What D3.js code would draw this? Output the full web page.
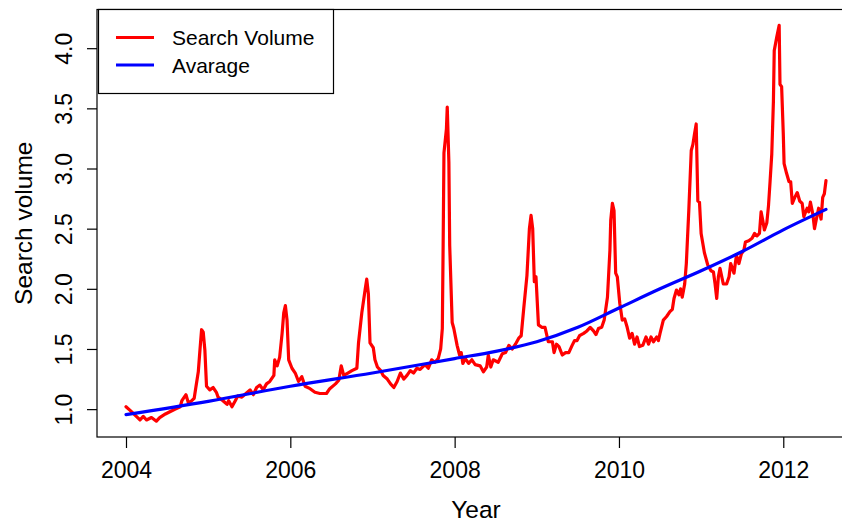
<!DOCTYPE html>
<html>
<head>
<meta charset="utf-8">
<script src="https://cdn.jsdelivr.net/npm/d3@7"></script>
<style>
  body { margin: 0; background: #fff; }
  svg { display: block; }
  text { font-family: "Liberation Sans", Arial, Helvetica, sans-serif; fill: #000; }
</style>
</head>
<body>
<svg id="chart" width="842" height="523"></svg>
<script>
// Weekly search volume, sampled as decimal years
const volumeYears = [
  2004.00, 2004.05, 2004.11, 2004.17, 2004.21, 2004.25, 2004.31, 2004.37, 2004.41, 2004.48, 2004.54, 2004.60, 2004.66,
  2004.68, 2004.73, 2004.76, 2004.80, 2004.83, 2004.85, 2004.88, 2004.90, 2004.92, 2004.94, 2004.96, 2004.98,
  2005.02, 2005.06, 2005.10, 2005.12, 2005.18, 2005.23, 2005.25, 2005.29, 2005.33, 2005.36, 2005.41, 2005.46, 2005.51,
  2005.55, 2005.59, 2005.63, 2005.67, 2005.71, 2005.75, 2005.80, 2005.81, 2005.84, 2005.87, 2005.90, 2005.92, 2005.94,
  2005.96, 2005.98,
  2006.02, 2006.06, 2006.10, 2006.14, 2006.18, 2006.24, 2006.30, 2006.36, 2006.44, 2006.48, 2006.55, 2006.59, 2006.62,
  2006.65, 2006.70, 2006.75, 2006.81, 2006.83, 2006.87, 2006.91, 2006.93, 2006.95, 2006.97,
  2007.01, 2007.03, 2007.06, 2007.10, 2007.13, 2007.18, 2007.22, 2007.26, 2007.30, 2007.34, 2007.38, 2007.42, 2007.46,
  2007.50, 2007.54, 2007.58, 2007.64, 2007.68, 2007.72, 2007.76, 2007.80, 2007.83, 2007.85, 2007.86, 2007.87, 2007.90,
  2007.91, 2007.93, 2007.94, 2007.97, 2007.99,
  2008.03, 2008.06, 2008.08, 2008.10, 2008.13, 2008.17, 2008.21, 2008.25, 2008.31, 2008.35, 2008.39, 2008.41, 2008.44,
  2008.47, 2008.53, 2008.58, 2008.62, 2008.66, 2008.70, 2008.74, 2008.78, 2008.81, 2008.84, 2008.88, 2008.91, 2008.93,
  2008.95, 2008.97, 2008.99,
  2009.02, 2009.06, 2009.10, 2009.14, 2009.19, 2009.21, 2009.24, 2009.27, 2009.31, 2009.35, 2009.39, 2009.43, 2009.46,
  2009.49, 2009.52, 2009.57, 2009.61, 2009.65, 2009.69, 2009.72, 2009.75, 2009.79, 2009.82, 2009.86, 2009.89, 2009.90,
  2009.92, 2009.94, 2009.96, 2009.98,
  2010.01, 2010.04, 2010.07, 2010.10, 2010.13, 2010.16, 2010.19, 2010.22, 2010.25, 2010.29, 2010.33, 2010.36, 2010.39,
  2010.42, 2010.46, 2010.48, 2010.50, 2010.54, 2010.58, 2010.62, 2010.65, 2010.67, 2010.70, 2010.73, 2010.75, 2010.77,
  2010.80, 2010.82, 2010.85, 2010.88, 2010.90, 2010.92, 2010.94, 2010.96, 2010.98,
  2011.00, 2011.04, 2011.08, 2011.12, 2011.15, 2011.17, 2011.19, 2011.21, 2011.23, 2011.27, 2011.31, 2011.34, 2011.36,
  2011.40, 2011.43, 2011.46, 2011.49, 2011.52, 2011.54, 2011.58, 2011.62, 2011.65, 2011.68, 2011.71, 2011.73, 2011.75,
  2011.77, 2011.80, 2011.82, 2011.84, 2011.86, 2011.88, 2011.89, 2011.92, 2011.95, 2011.96, 2011.98,
  2012.00, 2012.01, 2012.04, 2012.07, 2012.09, 2012.11, 2012.14, 2012.17, 2012.20, 2012.23, 2012.25, 2012.29, 2012.31,
  2012.33, 2012.36, 2012.38, 2012.40, 2012.43, 2012.46, 2012.48, 2012.50, 2012.52
];
const volumeValues = [
  1.02, 0.99, 0.95, 0.91, 0.94, 0.91, 0.93, 0.90, 0.93, 0.96, 0.98, 1.00, 1.02,
  1.07, 1.12, 1.05, 1.07, 1.09, 1.18, 1.31, 1.49, 1.66, 1.64, 1.49, 1.19,
  1.16, 1.18, 1.14, 1.10, 1.07, 1.04, 1.07, 1.02, 1.07, 1.11, 1.10, 1.13, 1.16,
  1.12, 1.18, 1.20, 1.16, 1.21, 1.23, 1.28, 1.41, 1.36, 1.43, 1.63, 1.80, 1.86,
  1.74, 1.41,
  1.34, 1.30, 1.23, 1.27, 1.19, 1.17, 1.14, 1.13, 1.13, 1.17, 1.21, 1.24, 1.36,
  1.28, 1.30, 1.32, 1.34, 1.55, 1.80, 1.99, 2.08, 1.96, 1.55,
  1.51, 1.41, 1.35, 1.32, 1.28, 1.25, 1.21, 1.18, 1.23, 1.30, 1.25, 1.28, 1.32,
  1.30, 1.34, 1.33, 1.37, 1.34, 1.41, 1.39, 1.42, 1.50, 1.67, 2.36, 3.13, 3.33,
  3.51, 3.05, 2.36, 1.72, 1.67,
  1.53, 1.45, 1.47, 1.38, 1.42, 1.38, 1.41, 1.37, 1.36, 1.31, 1.35, 1.45, 1.35,
  1.41, 1.39, 1.46, 1.47, 1.53, 1.50, 1.54, 1.59, 1.61, 1.83, 2.11, 2.50, 2.61,
  2.50, 2.06, 2.10,
  1.70, 1.68, 1.68, 1.56, 1.56, 1.47, 1.54, 1.52, 1.45, 1.47, 1.47, 1.53, 1.57,
  1.57, 1.61, 1.63, 1.65, 1.68, 1.65, 1.62, 1.67, 1.68, 1.74, 1.93, 2.32, 2.57,
  2.71, 2.65, 2.13, 2.10,
  1.88, 1.74, 1.75, 1.68, 1.59, 1.63, 1.54, 1.60, 1.52, 1.53, 1.60, 1.54, 1.60,
  1.56, 1.60, 1.57, 1.63, 1.74, 1.77, 1.81, 1.83, 1.92, 1.99, 1.95, 2.00, 1.93,
  2.04, 2.21, 2.65, 3.15, 3.20, 3.29, 3.37, 2.73, 2.72,
  2.46, 2.30, 2.20, 2.15, 2.14, 2.04, 1.92, 2.10, 2.17, 2.04, 2.04, 2.10, 2.21,
  2.13, 2.28, 2.21, 2.29, 2.32, 2.39, 2.40, 2.42, 2.46, 2.44, 2.46, 2.64, 2.57,
  2.49, 2.55, 2.69, 2.90, 3.12, 3.56, 3.98, 4.09, 4.19, 3.70, 3.68,
  3.29, 3.04, 2.96, 2.89, 2.89, 2.71, 2.76, 2.80, 2.73, 2.71, 2.60, 2.67, 2.64,
  2.72, 2.62, 2.50, 2.57, 2.67, 2.58, 2.76, 2.79, 2.90
];

// Smoothed average of the search volume
const averageYears  = [2004.00, 2005.00, 2006.00, 2007.00, 2008.00, 2008.50, 2009.00, 2009.50, 2010.00, 2010.50, 2011.00, 2011.50, 2012.00, 2012.52];
const averageValues = [0.955,   1.065,   1.19,    1.30,    1.42,    1.48,    1.56,    1.68,    1.84,    2.00,    2.15,    2.31,    2.49,    2.66];

const yearTicks   = [2004, 2006, 2008, 2010, 2012];
const volumeTicks = [1.0, 1.5, 2.0, 2.5, 3.0, 3.5, 4.0];
const seriesNames = ["Search Volume", "Avarage"];
const seriesColors = ["#ff0000", "#0000ff"];

const svg = d3.select("#chart");
const plot = { left: 97, right: 853, top: 9.5, bottom: 437 };
const legendFont = 21;
const tickFont = 23;
const titleFont = 24.5;

// Axis ranges padded by 4% on each side
const xExt = d3.extent(volumeYears);
const yExt = d3.extent(volumeValues);
const xPad = (xExt[1] - xExt[0]) * 0.04;
const yPad = (yExt[1] - yExt[0]) * 0.04;
const x = d3.scaleLinear().domain([xExt[0] - xPad, xExt[1] + xPad]).range([plot.left + 1, plot.right + 1]);
const y = d3.scaleLinear().domain([yExt[0] - yPad, yExt[1] + yPad]).range([plot.bottom, plot.top]);

const volume = volumeYears.map((t, i) => ({ t, v: volumeValues[i] }));
const average = averageYears.map((t, i) => ({ t, v: averageValues[i] }));

svg.append("clipPath").attr("id", "plot-clip")
  .append("rect")
  .attr("x", plot.left).attr("y", plot.top)
  .attr("width", plot.right - plot.left).attr("height", plot.bottom - plot.top);

const lines = svg.append("g").attr("clip-path", "url(#plot-clip)");

lines.append("path")
  .datum(volume)
  .attr("fill", "none")
  .attr("stroke", seriesColors[0])
  .attr("stroke-width", 3.2)
  .attr("stroke-linejoin", "round")
  .attr("stroke-linecap", "round")
  .attr("d", d3.line().x(d => x(d.t)).y(d => y(d.v)));

lines.append("path")
  .datum(average)
  .attr("fill", "none")
  .attr("stroke", seriesColors[1])
  .attr("stroke-width", 3.2)
  .attr("stroke-linecap", "round")
  .attr("d", d3.line().curve(d3.curveMonotoneX).x(d => x(d.t)).y(d => y(d.v)));

// Frame around the plotting region
svg.append("rect")
  .attr("x", plot.left).attr("y", plot.top)
  .attr("width", plot.right - plot.left).attr("height", plot.bottom - plot.top)
  .attr("fill", "none").attr("stroke", "#000").attr("stroke-width", 1.2);

// Bottom axis
const xAxis = svg.append("g")
  .attr("transform", `translate(0,${plot.bottom})`)
  .call(d3.axisBottom(x).tickValues(yearTicks).tickFormat(d3.format("d")).tickSize(11));
xAxis.select(".domain").remove();
xAxis.selectAll("line").attr("stroke", "#000").attr("stroke-width", 1.2);
xAxis.selectAll("text")
  .attr("font-size", tickFont)
  .attr("font-family", "Liberation Sans, Arial, sans-serif")
  .attr("y", 41)
  .attr("dy", null);

// Left axis with labels running along the axis
const yAxis = svg.append("g")
  .attr("transform", `translate(${plot.left},0)`)
  .call(d3.axisLeft(y).tickValues(volumeTicks).tickFormat(d3.format(".1f")).tickSize(10));
yAxis.select(".domain").remove();
yAxis.selectAll("line").attr("stroke", "#000").attr("stroke-width", 1.2);
yAxis.selectAll("text")
  .attr("font-size", tickFont)
  .attr("font-family", "Liberation Sans, Arial, sans-serif")
  .attr("text-anchor", "middle")
  .attr("dy", null)
  .attr("x", null)
  .attr("transform", "translate(-25,0) rotate(-90)");

// Axis titles
svg.append("text")
  .attr("x", 476)
  .attr("y", 518)
  .attr("text-anchor", "middle")
  .attr("font-size", titleFont)
  .text("Year");

svg.append("text")
  .attr("transform", `translate(32,${(plot.top + plot.bottom) / 2}) rotate(-90)`)
  .attr("text-anchor", "middle")
  .attr("font-size", titleFont)
  .text("Search volume");

// Legend
const legend = svg.append("g");
legend.append("rect")
  .attr("x", 98.5).attr("y", 9.5)
  .attr("width", 235).attr("height", 84)
  .attr("fill", "#fff").attr("stroke", "#000").attr("stroke-width", 1.2);

seriesNames.forEach((name, i) => {
  const cy = 37.5 + i * 27.5;
  legend.append("line")
    .attr("x1", 116).attr("x2", 154)
    .attr("y1", cy).attr("y2", cy)
    .attr("stroke", seriesColors[i]).attr("stroke-width", 3.2);
  legend.append("text")
    .attr("x", 172).attr("y", cy + 7.5)
    .attr("font-size", legendFont)
    .text(name);
});
</script>
</body>
</html>
